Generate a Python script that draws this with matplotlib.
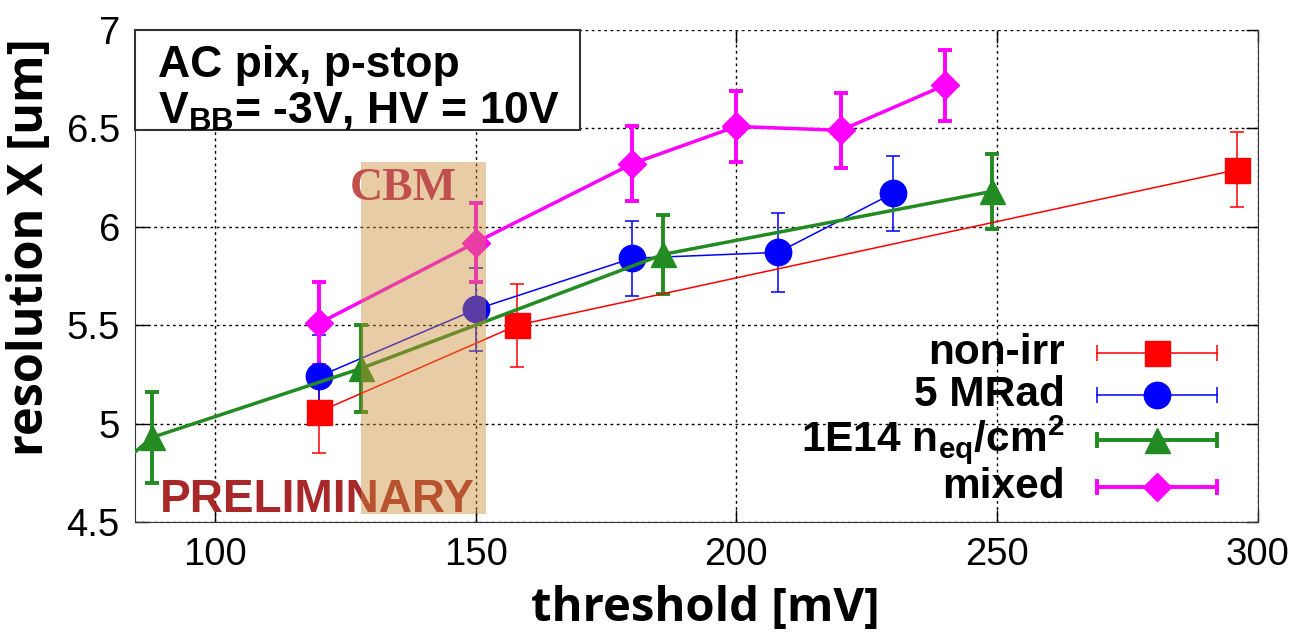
import matplotlib
matplotlib.use("Agg")
import matplotlib.pyplot as plt
from matplotlib.patches import Rectangle

plt.rcParams.update({
    "font.family": ["Liberation Sans", "DejaVu Sans"],
    "mathtext.fontset": "custom",
    "mathtext.rm": "Liberation Sans",
    "mathtext.bf": "Liberation Sans:bold",
})

# ---------------------------------------------------------------------------
# Data
# ---------------------------------------------------------------------------
nonirr_x = [120, 158, 296]
nonirr_y = [5.06, 5.50, 6.29]
nonirr_err = [0.21, 0.21, 0.19]

mrad_x = [120, 150, 180, 208, 230]
mrad_y = [5.24, 5.58, 5.84, 5.87, 6.17]
mrad_err = [0.21, 0.21, 0.19, 0.20, 0.19]

neq_x = [80, 88, 128, 186, 249]
neq_y = [4.75, 4.93, 5.28, 5.86, 6.18]
neq_err = [0.22, 0.23, 0.22, 0.20, 0.19]

mixed_x = [120, 150, 180, 200, 220, 240]
mixed_y = [5.51, 5.92, 6.32, 6.51, 6.49, 6.72]
mixed_err = [0.21, 0.20, 0.19, 0.18, 0.19, 0.18]

xticks = [100, 150, 200, 250, 300]
yticks = [4.5, 5.0, 5.5, 6.0, 6.5, 7.0]
ytick_labels = ["4.5", "5", "5.5", "6", "6.5", "7"]

# CBM threshold window
cbm_lo, cbm_hi = 128.1, 152.0
cbm_bottom, cbm_top = 4.54, 6.33

SERIES = [
    # label, x, y, err, color, marker, ms, lw, elw
    ("non-irr", nonirr_x, nonirr_y, nonirr_err, "#ff0000", "s", 18, 1.1, 1.1),
    ("5 MRad", mrad_x, mrad_y, mrad_err, "#0000ff", "o", 19, 1.1, 1.1),
    (r"1E14 n$_{\mathbf{eq}}$/cm$^{\mathbf{2}}$", neq_x, neq_y, neq_err, "#228b22", "^", 18, 2.5, 2.8),
    ("mixed", mixed_x, mixed_y, mixed_err, "#ff00ff", "D", 14, 2.5, 2.8),
]

fig = plt.figure(figsize=(13.06, 6.33), dpi=100)
ax = fig.add_axes([0.1034, 0.1754, 0.8598, 0.7772])

for label, xs, ys, err, color, marker, ms, lw, elw in SERIES:
    ax.errorbar(xs, ys, yerr=err, color=color, marker=marker, ms=ms, lw=lw,
                elinewidth=elw, capsize=5, capthick=elw, zorder=3)

ax.add_patch(Rectangle((cbm_lo, cbm_bottom), cbm_hi - cbm_lo, cbm_top - cbm_bottom,
                       facecolor="#cb8c34", alpha=0.44, edgecolor="none", zorder=5))
ax.text((cbm_lo + cbm_hi) / 2 - 4, 6.19, "CBM", family="Liberation Serif",
        weight="bold", size=33, color="#c0504d", ha="center", va="center", zorder=6)
ax.text(89.5, 4.55, "PRELIMINARY", weight="bold", size=33, color="#a8282a",
        ha="left", va="baseline", zorder=4)

ax.set_xlim(84.7, 300)
ax.set_ylim(4.5, 7.0)
ax.set_xticks(xticks)
ax.set_yticks(yticks)
ax.set_yticklabels(ytick_labels)
ax.tick_params(direction="in", length=9, width=1, top=True, right=True,
               labelsize=27.5, pad=11)
ax.grid(True, color="black", linestyle=(0, (2, 2.5)), linewidth=1)
ax.spines["top"].set_visible(False)
for s in ("left", "right", "bottom"):
    ax.spines[s].set_color("#333333")

ax.set_xlabel("threshold [mV]", family="Open Sans", weight="bold", size=34)
ax.set_ylabel("resolution X [um]", family="Open Sans", weight="bold", size=35)
ax.xaxis.set_label_coords(0.5076, -0.175)
ax.yaxis.set_label_coords(-0.0935, 0.559)
ax.xaxis.label.set_va("center")
ax.yaxis.label.set_va("center")

# info box in the top left corner
ax.add_patch(Rectangle((0, 0.797), 0.396, 0.203, transform=ax.transAxes,
                       facecolor="white", edgecolor="#333333", lw=1.5, zorder=7,
                       clip_on=False))
ax.text(0.0205, 0.905, "AC pix, p-stop", transform=ax.transAxes, weight="bold",
        size=32, va="baseline", zorder=8)
ax.text(0.0205, 0.81, r"V$_{\mathbf{BB}}$= -3V, HV = 10V", transform=ax.transAxes,
        weight="bold", size=32, va="baseline", zorder=8)

# gnuplot-style key: label on the left, horizontal errorbar sample on the right
key_y = [0.3435, 0.258, 0.1667, 0.0711]
for (label, xs, ys, err, color, marker, ms, lw, elw), ky in zip(SERIES, key_y):
    ax.text(0.828, ky, label, transform=ax.transAxes, weight="bold", size=30.5,
            ha="right", va="center", zorder=8)
    ax.plot([0.857, 0.9635], [ky, ky], transform=ax.transAxes, color=color,
            lw=elw, zorder=8, clip_on=False)
    ax.plot([0.857, 0.9635], [ky, ky], transform=ax.transAxes, color=color,
            lw=0, marker="|", ms=11, mew=elw, zorder=8, clip_on=False)
    ax.plot([0.910], [ky], transform=ax.transAxes, color=color, marker=marker,
            ms=ms, lw=0, zorder=9, clip_on=False)

fig.savefig("out.png", dpi=100)
